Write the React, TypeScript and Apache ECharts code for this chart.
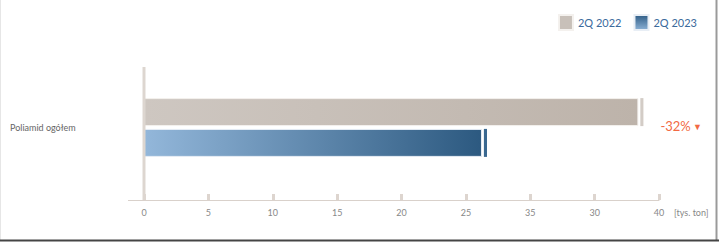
import React, { useEffect, useRef } from "react";
import * as echarts from "echarts";

const categories = ["Poliamid ogółem"];
const values2022 = [38.4];
const values2023 = [26.25];
const seriesNames = ["2Q 2022", "2Q 2023"];
const tickLabels = ["0", "5", "10", "15", "20", "25", "35", "30", "40"];
const unitLabel = "[tys. ton]";

// end-cap decoration (gap + thin sliver), in axis units
const capGap = 0.15;
const capWidth = 0.24;

export default function App() {
  const ref = useRef<HTMLDivElement>(null);
  useEffect(() => {
    if (!ref.current) return;
    const chart = echarts.init(ref.current, undefined, { renderer: "svg" });
    const change = Math.round((values2023[0] / values2022[0] - 1) * 100);
    const grad2022 = new echarts.graphic.LinearGradient(0, 0, 1, 0, [
      { offset: 0, color: "#cec7c1" },
      { offset: 1, color: "#bdb3aa" },
    ]);
    const grad2023 = new echarts.graphic.LinearGradient(0, 0, 1, 0, [
      { offset: 0, color: "#93b7da" },
      { offset: 1, color: "#2c5980" },
    ]);
    const font = "Lato, 'Open Sans', sans-serif";
    const option: any = {
      animation: false,
      textStyle: { fontFamily: font },
      legend: {
        top: 9,
        right: 17,
        itemWidth: 14,
        itemHeight: 15,
        itemGap: 12,
        icon: "rect",
        textStyle: { color: "#3b6a9c", fontSize: 11, fontFamily: font },
        data: [
          { name: seriesNames[0], itemStyle: { color: "#c8c0b9" } },
          {
            name: seriesNames[1],
            itemStyle: {
              color: new echarts.graphic.LinearGradient(0, 0, 0, 1, [
                { offset: 0, color: "#2f5d86" },
                { offset: 1, color: "#8db2d6" },
              ]),
            },
          },
        ],
      },
      grid: { left: 144, right: 60, top: 55, bottom: 42 },
      xAxis: {
        type: "value",
        min: 0,
        max: 40,
        interval: 5,
        axisLine: { show: true, lineStyle: { color: "#d9d1cb", width: 1 } },
        axisTick: { show: true, inside: true, length: 6, lineStyle: { color: "#ddd5cf", width: 3 } },
        splitLine: { show: false },
        axisLabel: {
          color: "#888",
          fontSize: 9,
          margin: 8,
          fontFamily: font,
          formatter: (v: number) => tickLabels[Math.round(v / 5)],
        },
        name: unitLabel,
        nameLocation: "end",
        nameGap: 15,
        nameTextStyle: { color: "#888", fontSize: 9, verticalAlign: "top", padding: [8, 0, 0, 0], fontFamily: font },
      },
      yAxis: {
        type: "category",
        data: categories,
        axisLine: { show: false },
        axisTick: { show: false },
        axisLabel: { color: "#666", fontSize: 9, align: "left", margin: 134, fontFamily: font },
      },
      series: [
        {
          name: seriesNames[0],
          type: "bar",
          stack: "a",
          data: values2022,
          barWidth: 28,
          barGap: "10%",
          itemStyle: { color: grad2022, borderColor: "#f4f1ee", borderWidth: 1 },
        },
        {
          name: "gapA",
          type: "bar",
          stack: "a",
          data: values2022.map(() => capGap),
          itemStyle: { color: "rgba(0,0,0,0)" },
          silent: true,
        },
        {
          name: "capA",
          type: "bar",
          stack: "a",
          data: values2022.map(() => capWidth),
          itemStyle: { color: "#d3ccc6" },
          label: {
            show: true,
            position: "right",
            offset: [12, 14],
            formatter: `{a|${change}%}{b| ▼}`,
            rich: {
              a: { color: "#f26a43", fontSize: 13, fontFamily: font },
              b: { color: "#f26a43", fontSize: 9, fontFamily: font },
            },
          },
        },
        {
          name: seriesNames[1],
          type: "bar",
          stack: "b",
          data: values2023,
          barWidth: 28,
          itemStyle: { color: grad2023, borderColor: "#e8eef5", borderWidth: 1 },
        },
        {
          name: "gapB",
          type: "bar",
          stack: "b",
          data: values2023.map(() => capGap),
          itemStyle: { color: "rgba(0,0,0,0)" },
          silent: true,
        },
        {
          name: "capB",
          type: "bar",
          stack: "b",
          data: values2023.map(() => capWidth),
          itemStyle: { color: "#3a6890" },
        },
      ],
      graphic: [
        { type: "line", shape: { x1: 144, y1: 67, x2: 144, y2: 200 }, style: { stroke: "#ddd6d0", lineWidth: 3 }, z: 10 },
        { type: "line", shape: { x1: 128, y1: 200.5, x2: 144, y2: 200.5 }, style: { stroke: "#d9d1cb", lineWidth: 1 } },
        { type: "line", shape: { x1: 0.5, y1: 0, x2: 0.5, y2: 240 }, style: { stroke: "#e6e6e6", lineWidth: 1 } },
        { type: "line", shape: { x1: 716.5, y1: 0, x2: 716.5, y2: 240 }, style: { stroke: "#9a9a9a", lineWidth: 2 } },
        { type: "line", shape: { x1: 0, y1: 240.5, x2: 719, y2: 240.5 }, style: { stroke: "#444", lineWidth: 2 } },
      ],
    };
    chart.setOption(option);
    return () => chart.dispose();
  }, []);
  return (
    <div
      ref={ref}
      style={{ position: "fixed", left: 0, top: 0, width: 719, height: 242, background: "#fff" }}
    />
  );
}
